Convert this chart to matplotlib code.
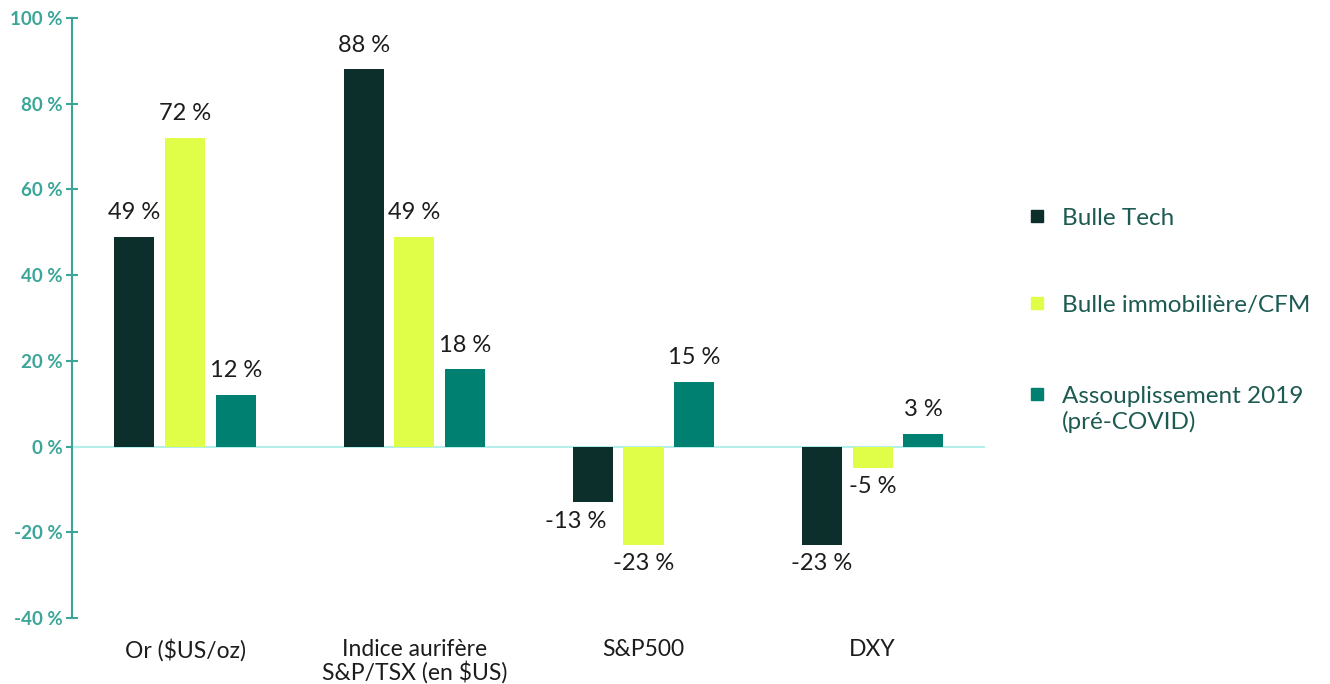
import matplotlib
matplotlib.use("Agg")
import matplotlib.pyplot as plt
from matplotlib.patches import Rectangle
import numpy as np

plt.rcParams['font.family'] = ['Lato', 'DejaVu Sans']

categories = ["Or ($US/oz)", "Indice aurifère\nS&P/TSX (en $US)", "S&P500", "DXY"]
series_names = ["Bulle Tech", "Bulle immobilière/CFM", "Assouplissement 2019\n(pré-COVID)"]
bulle_tech = [49, 88, -13, -23]
bulle_immo = [72, 49, -23, -5]
assoupl_2019 = [12, 18, 15, 3]
y_ticks = [-40, -20, 0, 20, 40, 60, 80, 100]

colors = ["#0c2f2b", "#e0fd47", "#008070"]
teal_axis = "#3aa598"
text_dark = "#1c1c1c"

fig = plt.figure(figsize=(13.3, 6.84), dpi=100)
ax = fig.add_axes([72 / 1330, 1 - 618 / 684, (985 - 72) / 1330, 600 / 684])

x = np.arange(len(categories))
width = 0.175
step = 0.221
all_series = [bulle_tech, bulle_immo, assoupl_2019]
# the -13 % label sits a bit left in the original, clear of the lime bar
nudge = {(0, 2): -12}
for i, vals in enumerate(all_series):
    bars = ax.bar(x + (i - 1) * step, vals, width, color=colors[i], zorder=3)
    for j, (b, v) in enumerate(zip(bars, vals)):
        dx = nudge.get((i, j), 0)
        if v >= 0:
            ax.annotate(f"{v} %", (b.get_x() + b.get_width() / 2, v),
                        xytext=(dx, 10), textcoords="offset points",
                        ha="center", va="bottom", fontsize=17, color=text_dark)
        else:
            ax.annotate(f"{v} %", (b.get_x() + b.get_width() / 2, v),
                        xytext=(dx, -6), textcoords="offset points",
                        ha="center", va="top", fontsize=17, color=text_dark)

ax.set_xlim(-0.493, 3.49)
ax.set_ylim(-40, 100)
ax.axhline(0, color="#b5efec", lw=1.5, zorder=2)

ax.set_yticks(y_ticks)
ax.set_yticklabels([f"{t} %" for t in y_ticks])
ax.tick_params(axis="y", direction="inout", length=9, width=1.5, color=teal_axis,
               labelcolor=teal_axis, labelsize=13.5, pad=2)
for lab in ax.get_yticklabels():
    lab.set_fontweight("bold")

ax.set_xticks(x)
ax.set_xticklabels(categories, fontsize=16.5, color=text_dark, linespacing=1.05)
ax.tick_params(axis="x", length=0, pad=15)

for s in ["top", "right", "bottom"]:
    ax.spines[s].set_visible(False)
ax.spines["left"].set_color(teal_axis)
ax.spines["left"].set_linewidth(1.5)

# legend drawn by hand so the square sits beside the first line
legend_base = [225, 312, 403]
for name, col, yb in zip(series_names, colors, legend_base):
    fig.patches.append(Rectangle((1031 / 1330, 1 - (yb - 3) / 684), 12 / 1330, 12 / 684,
                                 transform=fig.transFigure, color=col))
    for k, line in enumerate(name.split("\n")):
        fig.text(1062 / 1330, 1 - (yb + 26 * k) / 684, line, fontsize=17.5,
                 color="#1d5a52", ha="left", va="baseline")

fig.savefig("out.png", dpi=100)
